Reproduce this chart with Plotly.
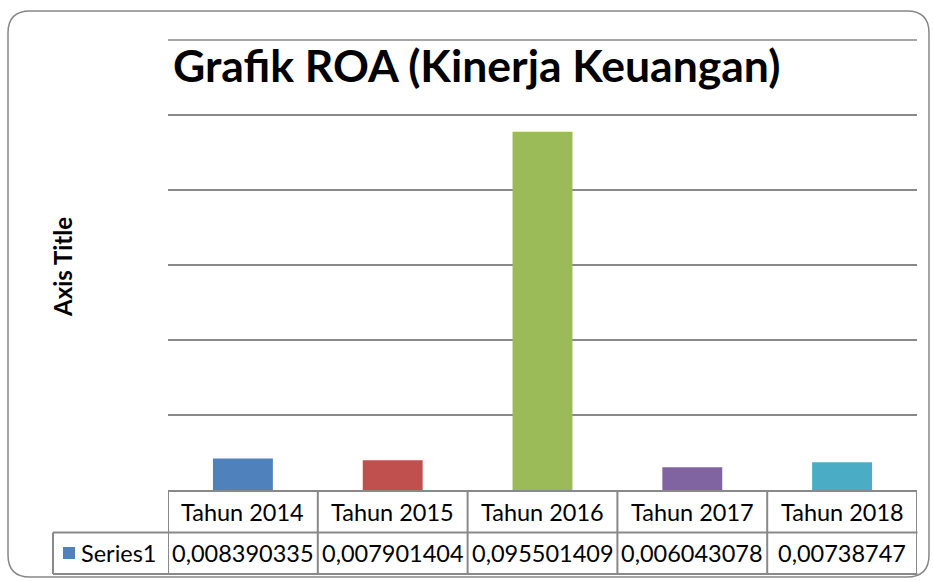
import plotly.graph_objects as go

categories = ["Tahun 2014", "Tahun 2015", "Tahun 2016", "Tahun 2017", "Tahun 2018"]
values = [0.008390335, 0.007901404, 0.095501409, 0.006043078, 0.00738747]
value_labels = ["0,008390335", "0,007901404", "0,095501409", "0,006043078", "0,00738747"]
bar_colors = ["#4F81BD", "#C0504D", "#9BBB59", "#8064A2", "#4BACC6"]
series_name = "Series1"
title_text = "Grafik ROA (Kinerja Keuangan)"
y_title = "Axis Title"
y_max = 0.12
y_step = 0.02

FONT = "Lato"
GRID = "#898989"

# plot area in pixels
L, R, T, B = 168, 917, 40, 490
W, H = R - L, B - T
def px(x):
    return (x - L) / W
def py(y):
    return (B - y) / H

fig = go.Figure()
fig.add_trace(go.Bar(x=list(range(len(categories))), y=values,
                     marker=dict(color=bar_colors, line=dict(width=0)),
                     width=0.4, showlegend=False, hoverinfo="skip"))

shapes = []
# top gridline (at the axis maximum, drawn unclipped)
shapes.append(dict(type="line", xref="paper", yref="paper", x0=0, x1=1, y0=1, y1=1,
                   line=dict(color=GRID, width=1.5), layer="below"))
row1_top, row2_top, row_bot = 491, 532.5, 574
n = len(categories)
shapes.append(dict(type="line", xref="x", yref="paper", x0=-0.5, x1=n - 0.5,
                   y0=py(row1_top), y1=py(row1_top), line=dict(color=GRID, width=2)))
for yy in (row2_top, row_bot):
    shapes.append(dict(type="line", xref="paper", yref="paper", x0=px(53), x1=1.0007,
                       y0=py(yy), y1=py(yy), line=dict(color=GRID, width=2)))
for i in range(n + 1):
    shapes.append(dict(type="line", xref="x", yref="paper", x0=i - 0.5, x1=i - 0.5,
                       y0=py(row1_top), y1=py(row_bot), line=dict(color=GRID, width=2)))
shapes.append(dict(type="line", xref="paper", yref="paper", x0=px(53), x1=px(53),
                   y0=py(row2_top), y1=py(row_bot), line=dict(color=GRID, width=2)))
shapes.append(dict(type="rect", xref="paper", yref="paper", x0=px(63), x1=px(75),
                   y0=py(559), y1=py(547), fillcolor=bar_colors[0], line=dict(width=0)))
x0b, x1b, y0b, y1b, rr = 8, 929, 11, 577, 22
def P(x, y):
    return f"{px(x)},{py(y)}"
path = (f"M {P(x0b + rr, y0b)} L {P(x1b - rr, y0b)} Q {P(x1b, y0b)} {P(x1b, y0b + rr)} "
        f"L {P(x1b, y1b - rr)} Q {P(x1b, y1b)} {P(x1b - rr, y1b)} "
        f"L {P(x0b + rr, y1b)} Q {P(x0b, y1b)} {P(x0b, y1b - rr)} "
        f"L {P(x0b, y0b + rr)} Q {P(x0b, y0b)} {P(x0b + rr, y0b)} Z")
shapes.append(dict(type="path", xref="paper", yref="paper", path=path,
                   line=dict(color="#868686", width=1.5)))

annotations = []
for i, (c, v) in enumerate(zip(categories, value_labels)):
    annotations.append(dict(x=i, xref="x", y=py((row1_top + row2_top) / 2), yref="paper",
                            text=c, showarrow=False, xanchor="center", yanchor="middle",
                            font=dict(family=FONT, size=23.5, color="#000000")))
    annotations.append(dict(x=i, xref="x", y=py((row2_top + row_bot) / 2), yref="paper",
                            text=v, showarrow=False, xanchor="center", yanchor="middle",
                            font=dict(family=FONT, size=23.5, color="#000000")))
annotations.append(dict(x=px(79), xref="paper", y=py((row2_top + row_bot) / 2), yref="paper",
                        text=series_name, showarrow=False, xanchor="left", yanchor="middle",
                        font=dict(family=FONT, size=23.5, color="#000000")))
annotations.append(dict(x=px(476), xref="paper", y=py(64), yref="paper",
                        text="<b>" + title_text + "</b>", showarrow=False,
                        xanchor="center", yanchor="middle",
                        font=dict(family=FONT, size=44.5, color="#000000")))
annotations.append(dict(x=px(62), xref="paper", y=py(267), yref="paper",
                        text="<b>" + y_title + "</b>", showarrow=False, textangle=-90,
                        xanchor="center", yanchor="middle",
                        font=dict(family=FONT, size=24, color="#000000")))

fig.update_layout(
    width=933, height=581,
    margin=dict(l=L, r=933 - R, t=T, b=581 - B),
    paper_bgcolor="white", plot_bgcolor="white",
    xaxis=dict(range=[-0.5, n - 0.5], showticklabels=False, showgrid=False,
               zeroline=False, showline=False, fixedrange=True),
    yaxis=dict(range=[0, y_max], dtick=y_step, showticklabels=False, showgrid=True,
               gridcolor=GRID, gridwidth=1.5, zeroline=False, showline=False, fixedrange=True),
    shapes=shapes, annotations=annotations,
)
fig.write_html("out.html", config={"displayModeBar": False},
               post_script="document.body.style.margin='0';document.body.style.overflow='hidden';")
